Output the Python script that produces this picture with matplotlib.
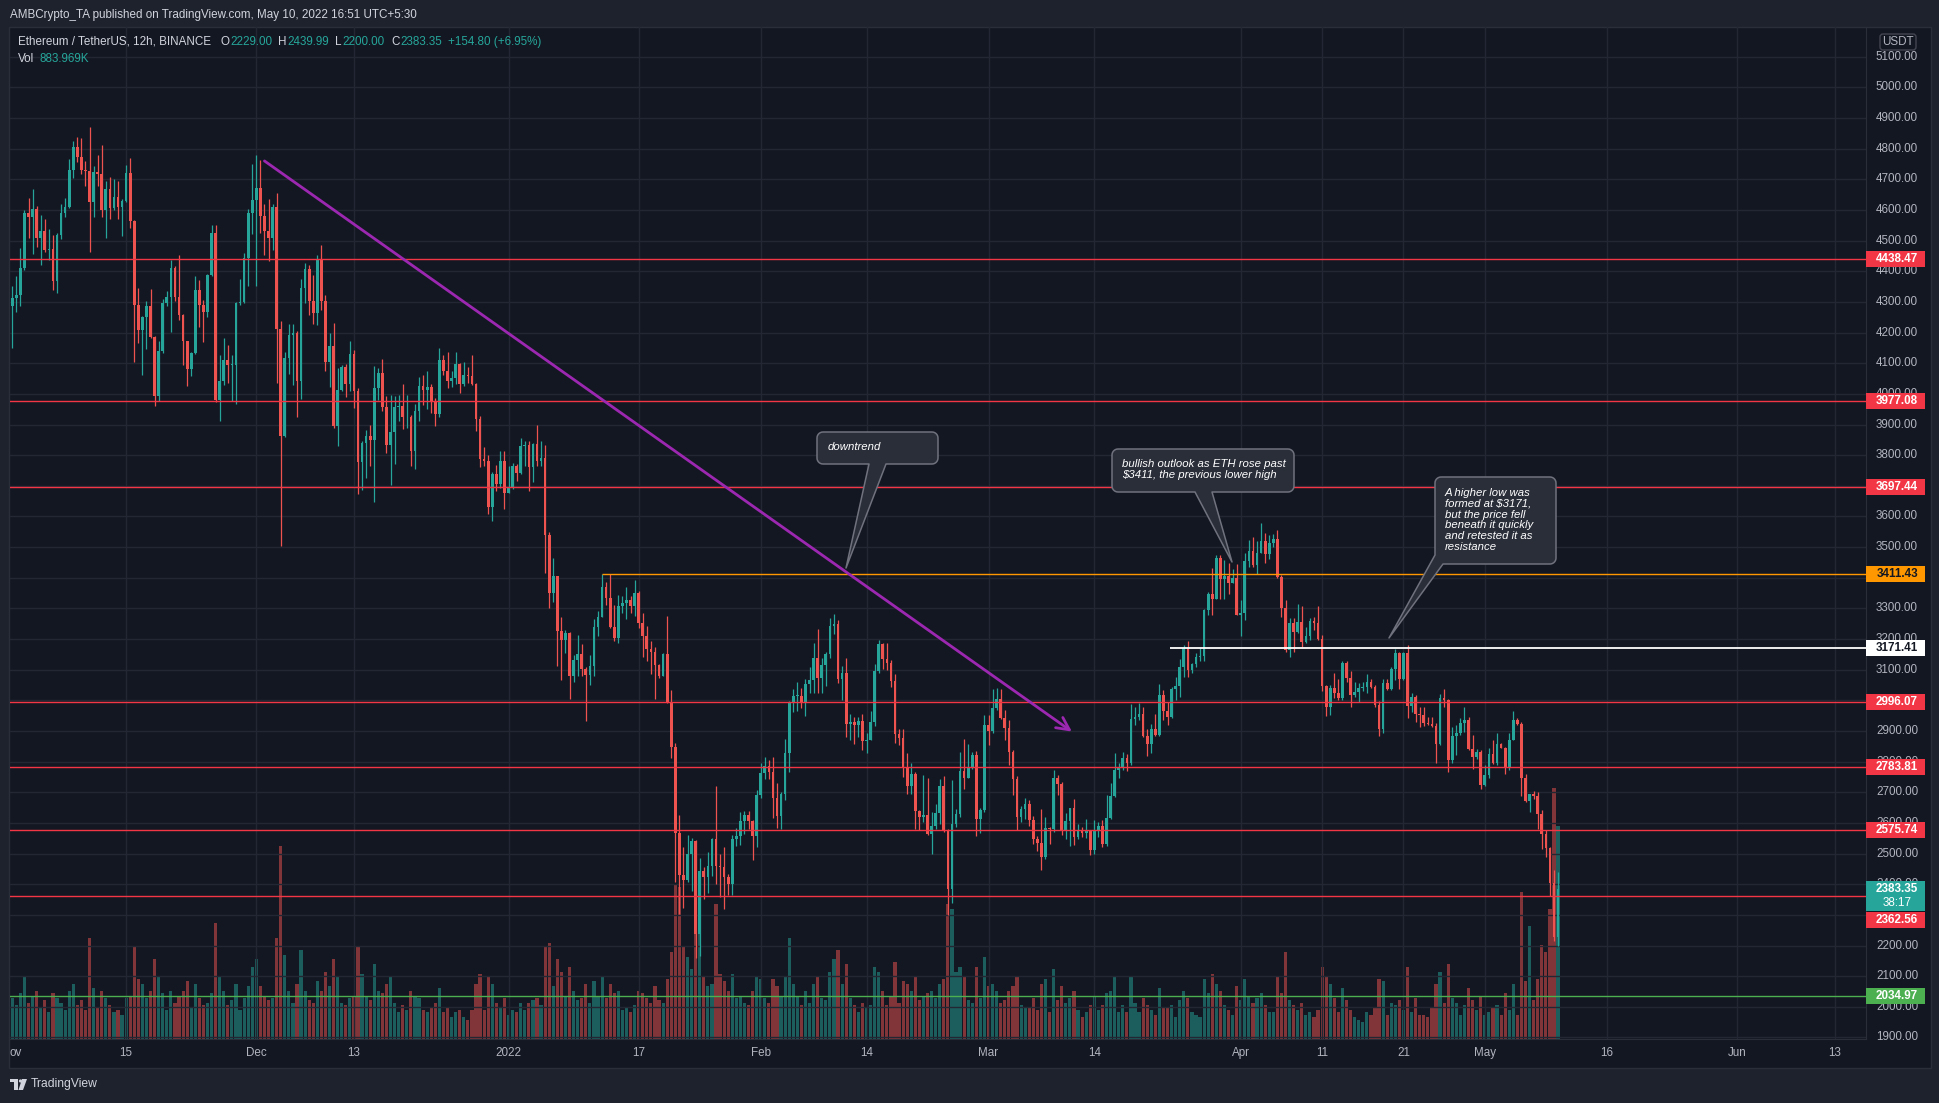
"""ETH/USDT 12h (Binance) in TradingView dark style: candles, volume,
horizontal levels, a falling trendline and three callouts."""
import matplotlib
matplotlib.use("Agg")
import matplotlib.pyplot as plt
import matplotlib.transforms as mtransforms
from matplotlib.patches import Rectangle, Polygon, FancyBboxPatch, Circle
import numpy as np

plt.rcParams["font.family"] = ["Liberation Sans", "DejaVu Sans"]

W, H = 1940, 1103

# 12h candles: index 0 = 2021-11-01 00:00 UTC, last = 2022-05-10 00:00 UTC
OPEN_FIRST = 4286
CLOSE = [
    4313, 4321, 4411, 4591, 4577, 4604, 4509, 4533, 4471, 4473,
    4368, 4519, 4591, 4611, 4729, 4807, 4774, 4730, 4727, 4626,
    4724, 4716, 4600, 4667, 4605, 4643, 4611, 4628, 4722, 4564,
    4289, 4208, 4251, 4288, 4186, 3994, 4141, 4295, 4316, 4412,
    4316, 4256, 4172, 4082, 4134, 4340, 4289, 4266, 4387, 4526,
    3981, 4041, 4112, 4093, 4095, 4295, 4299, 4444, 4591, 4631,
    4673, 4580, 4531, 4507, 4611, 4213, 3864, 4118, 4193, 4199,
    4041, 4346, 4409, 4304, 4264, 4436, 4302, 4103, 4157, 3896,
    4014, 4088, 4033, 4130, 4008, 3779, 3841, 3861, 3848, 4019,
    4068, 3957, 3832, 3875, 3957, 3961, 3923, 3924, 3812, 3945,
    4027, 4011, 4021, 3977, 3933, 4110, 4076, 4043, 4053, 4097,
    4032, 4062, 4057, 4032, 3918, 3788, 3782, 3630, 3740, 3707,
    3782, 3675, 3692, 3765, 3741, 3829, 3833, 3762, 3837, 3782,
    3792, 3538, 3349, 3406, 3225, 3198, 3220, 3079, 3130, 3152,
    3102, 3083, 3113, 3239, 3273, 3371, 3335, 3239, 3202, 3308,
    3319, 3326, 3308, 3349, 3253, 3209, 3168, 3158, 3116, 3081,
    3151, 2996, 2848, 2567, 2430, 2414, 2500, 2540, 2238, 2444,
    2424, 2461, 2548, 2461, 2457, 2424, 2400, 2546, 2557, 2605,
    2626, 2605, 2557, 2690, 2763, 2786, 2767, 2681, 2622, 2695,
    2829, 2992, 3013, 3013, 2995, 3052, 3066, 3137, 3072, 3114,
    3150, 3243, 3249, 3069, 3088, 2922, 2930, 2920, 2932, 2868,
    2872, 2928, 3096, 3184, 3134, 3121, 3064, 2889, 2876, 2781,
    2720, 2761, 2639, 2620, 2625, 2565, 2590, 2634, 2720, 2578,
    2385, 2596, 2630, 2769, 2747, 2783, 2821, 2614, 2641, 2919,
    2899, 2974, 3003, 2943, 2911, 2832, 2742, 2620, 2647, 2663,
    2609, 2549, 2535, 2489, 2585, 2580, 2745, 2726, 2578, 2605,
    2650, 2554, 2578, 2567, 2578, 2513, 2578, 2590, 2532, 2617,
    2687, 2774, 2780, 2812, 2794, 2938, 2946, 2954, 2884, 2857,
    2908, 2886, 3019, 2966, 2946, 3036, 3047, 3110, 3170, 3099,
    3120, 3142, 3145, 3295, 3346, 3330, 3466, 3396, 3406, 3384,
    3398, 3278, 3284, 3455, 3488, 3442, 3482, 3520, 3477, 3515,
    3525, 3402, 3302, 3164, 3251, 3224, 3257, 3191, 3210, 3260,
    3251, 3199, 3048, 2977, 3039, 3025, 3009, 3121, 3072, 3017,
    3028, 3041, 3044, 3061, 3044, 2984, 2908, 3057, 3036, 3101,
    3153, 3071, 3153, 2981, 3012, 2957, 2951, 2927, 2922, 2916,
    2857, 3006, 3001, 2805, 2883, 2892, 2927, 2935, 2840, 2816,
    2832, 2723, 2756, 2824, 2794, 2857, 2846, 2783, 2870, 2937,
    2924, 2745, 2672, 2694, 2687, 2630, 2565, 2518, 2404, 2229, 2383.35,
]
HIGH = [
    4353, 4386, 4477, 4600, 4640, 4667, 4612, 4582, 4569, 4537,
    4517, 4525, 4618, 4638, 4765, 4824, 4839, 4834, 4759, 4870,
    4744, 4778, 4811, 4693, 4709, 4702, 4693, 4635, 4746, 4771,
    4566, 4346, 4255, 4302, 4343, 4190, 4174, 4308, 4334, 4436,
    4417, 4452, 4259, 4174, 4137, 4386, 4373, 4306, 4392, 4550,
    4552, 4128, 4182, 4161, 4128, 4299, 4375, 4458, 4602, 4751,
    4778, 4762, 4620, 4635, 4618, 4654, 4237, 4136, 4229, 4229,
    4205, 4376, 4426, 4420, 4389, 4452, 4487, 4324, 4199, 4232,
    4085, 4095, 4098, 4174, 4144, 4019, 3845, 3883, 3899, 4092,
    4084, 4115, 3994, 3997, 3994, 3997, 4032, 3997, 3932, 3968,
    4055, 4062, 4073, 4032, 3988, 4149, 4128, 4135, 4073, 4135,
    4101, 4103, 4087, 4128, 4035, 3929, 3826, 3801, 3746, 3769,
    3813, 3813, 3764, 3774, 3771, 3856, 3847, 3847, 3840, 3898,
    3847, 3833, 3549, 3463, 3406, 3271, 3230, 3223, 3147, 3212,
    3184, 3110, 3147, 3264, 3291, 3412, 3385, 3412, 3312, 3343,
    3339, 3370, 3339, 3394, 3357, 3284, 3243, 3192, 3174, 3120,
    3155, 3275, 3033, 2862, 2626, 2523, 2560, 2551, 2544, 2485,
    2457, 2506, 2550, 2722, 2498, 2523, 2433, 2561, 2585, 2635,
    2640, 2640, 2608, 2708, 2797, 2814, 2804, 2814, 2729, 2700,
    2873, 2997, 3038, 3061, 3040, 3071, 3110, 3186, 3233, 3139,
    3159, 3268, 3282, 3262, 3113, 3137, 2957, 2946, 2946, 2954,
    2892, 2965, 3117, 3197, 3186, 3186, 3132, 3086, 2905, 2905,
    2829, 2794, 2766, 2643, 2758, 2748, 2636, 2663, 2742, 2752,
    2581, 2740, 2647, 2832, 2875, 2856, 2832, 2834, 2650, 2952,
    2952, 3036, 3041, 3036, 2970, 2935, 2837, 2752, 2654, 2682,
    2676, 2622, 2556, 2647, 2620, 2587, 2774, 2758, 2734, 2632,
    2650, 2678, 2598, 2587, 2614, 2578, 2609, 2603, 2609, 2690,
    2731, 2829, 2794, 2832, 2826, 2987, 2979, 2990, 2979, 2908,
    2924, 2957, 3053, 3033, 2995, 3044, 3075, 3135, 3180, 3194,
    3122, 3153, 3170, 3297, 3355, 3431, 3474, 3474, 3458, 3447,
    3428, 3445, 3327, 3482, 3524, 3534, 3521, 3578, 3547, 3540,
    3542, 3556, 3409, 3327, 3268, 3268, 3314, 3308, 3240, 3268,
    3273, 3308, 3213, 3050, 3050, 3088, 3071, 3128, 3129, 3096,
    3061, 3057, 3060, 3086, 3068, 3050, 2999, 3068, 3071, 3110,
    3166, 3158, 3158, 3180, 3023, 3017, 2979, 2979, 2946, 2946,
    2927, 3022, 3038, 3003, 2914, 2919, 2944, 2979, 2946, 2886,
    2840, 2837, 2788, 2843, 2872, 2892, 2861, 2848, 2892, 2966,
    2941, 2930, 2759, 2696, 2704, 2701, 2641, 2578, 2522, 2447, 2439.99,
]
LOW = [
    4148, 4266, 4286, 4405, 4509, 4455, 4479, 4422, 4462, 4438,
    4340, 4330, 4504, 4577, 4608, 4704, 4757, 4716, 4678, 4462,
    4577, 4678, 4578, 4508, 4571, 4600, 4571, 4515, 4625, 4542,
    4103, 4166, 4063, 4147, 4182, 3959, 3978, 4134, 4286, 4201,
    4302, 4242, 4095, 4025, 4059, 4130, 4217, 4168, 4251, 4384,
    3975, 3913, 4030, 4035, 3978, 3967, 4291, 4297, 4351, 4520,
    4351, 4526, 4452, 4433, 4471, 4035, 3505, 3860, 4066, 4030,
    3923, 3984, 4297, 4257, 4229, 4224, 4273, 4076, 4021, 3888,
    3829, 4008, 3990, 4008, 3954, 3673, 3685, 3725, 3763, 3646,
    3981, 3943, 3807, 3701, 3771, 3910, 3886, 3888, 3763, 3754,
    3913, 3963, 3950, 3936, 3895, 3926, 4062, 4018, 4021, 4032,
    4002, 4025, 4035, 4029, 3878, 3760, 3764, 3607, 3586, 3682,
    3692, 3623, 3675, 3689, 3716, 3737, 3764, 3682, 3714, 3764,
    3764, 3417, 3301, 3321, 3113, 3065, 3154, 3003, 3061, 3079,
    3079, 2932, 3051, 3079, 3209, 3273, 3312, 3236, 3195, 3188,
    3284, 3264, 3284, 3275, 3236, 3143, 3129, 3086, 3003, 3072,
    3081, 2992, 2811, 2407, 2304, 2324, 2406, 2379, 2159, 2167,
    2352, 2372, 2427, 2400, 2359, 2320, 2365, 2365, 2526, 2529,
    2564, 2581, 2478, 2523, 2681, 2743, 2743, 2615, 2585, 2581,
    2674, 2766, 2962, 2965, 2975, 2948, 3025, 3025, 3025, 3025,
    3046, 3139, 3215, 3058, 3001, 2881, 2870, 2859, 2881, 2837,
    2829, 2870, 2916, 3088, 3101, 3099, 3044, 2861, 2854, 2750,
    2696, 2696, 2581, 2578, 2603, 2560, 2500, 2581, 2598, 2570,
    2300, 2340, 2587, 2620, 2712, 2745, 2777, 2556, 2567, 2636,
    2854, 2892, 2970, 2938, 2870, 2788, 2690, 2576, 2603, 2614,
    2589, 2532, 2510, 2447, 2483, 2532, 2570, 2690, 2559, 2549,
    2524, 2527, 2549, 2554, 2552, 2494, 2500, 2554, 2521, 2524,
    2614, 2683, 2748, 2774, 2770, 2790, 2919, 2935, 2879, 2818,
    2829, 2883, 2883, 2935, 2919, 2944, 3001, 3012, 3077, 3077,
    3088, 3110, 3128, 3128, 3278, 3278, 3330, 3330, 3330, 3347,
    3382, 3278, 3210, 3262, 3436, 3436, 3412, 3480, 3447, 3460,
    3500, 3398, 3273, 3159, 3142, 3159, 3219, 3175, 3186, 3197,
    3230, 3197, 3031, 2949, 2952, 3006, 3001, 3001, 3060, 2977,
    3012, 2995, 3030, 3023, 3039, 2979, 2883, 2894, 3033, 3033,
    3066, 3036, 3066, 2941, 2963, 2930, 2914, 2916, 2920, 2914,
    2794, 2854, 2979, 2767, 2796, 2821, 2886, 2897, 2837, 2777,
    2810, 2712, 2720, 2748, 2792, 2788, 2843, 2759, 2774, 2870,
    2919, 2687, 2668, 2636, 2679, 2581, 2516, 2489, 2360, 2216, 2200,
]
VOLUME_K = [
    170, 140, 190, 260, 150, 180, 200, 130, 160, 110, 190, 170, 150, 120, 200, 230, 140, 160, 120, 420,
    210, 130, 200, 170, 140, 110, 120, 100, 170, 180, 380, 250, 230, 170, 200, 330, 260, 190, 120, 200,
    150, 180, 200, 240, 130, 230, 170, 140, 150, 190, 480, 260, 200, 140, 160, 230, 120, 170, 220, 300,
    330, 220, 180, 160, 170, 420, 800, 350, 200, 150, 230, 370, 200, 160, 150, 240, 200, 280, 220, 330,
    260, 150, 140, 170, 180, 380, 270, 180, 160, 310, 200, 190, 230, 260, 150, 110, 140, 120, 200, 180,
    170, 120, 110, 130, 150, 210, 110, 130, 90, 110, 120, 90, 80, 120, 230, 270, 120, 260, 230, 150,
    130, 170, 100, 120, 110, 150, 120, 150, 160, 170, 140, 380, 400, 220, 330, 280, 180, 300, 200, 160,
    170, 230, 150, 240, 180, 260, 170, 230, 190, 200, 120, 130, 110, 140, 200, 190, 170, 150, 220, 160,
    150, 250, 360, 640, 630, 380, 340, 290, 650, 470, 260, 220, 230, 560, 270, 240, 200, 270, 170, 180,
    150, 140, 200, 260, 250, 170, 150, 250, 220, 180, 260, 420, 230, 180, 140, 200, 150, 230, 260, 170,
    160, 280, 330, 370, 230, 310, 170, 140, 110, 150, 130, 140, 300, 280, 200, 140, 180, 320, 150, 240,
    230, 200, 260, 160, 180, 190, 200, 170, 230, 250, 560, 540, 280, 300, 260, 160, 150, 300, 170, 340,
    220, 230, 200, 150, 160, 200, 220, 260, 140, 130, 130, 170, 120, 230, 250, 110, 290, 160, 220, 150,
    170, 200, 120, 90, 110, 140, 180, 120, 140, 190, 200, 260, 110, 140, 110, 260, 150, 110, 170, 140,
    120, 100, 210, 130, 130, 140, 90, 160, 200, 170, 110, 100, 90, 250, 190, 270, 230, 200, 140, 120,
    100, 220, 160, 250, 180, 150, 170, 190, 140, 110, 110, 260, 190, 360, 160, 140, 120, 150, 100, 110,
    90, 120, 300, 260, 230, 170, 110, 210, 160, 120, 90, 80, 70, 110, 100, 130, 250, 240, 100, 150,
    140, 160, 120, 300, 110, 170, 100, 100, 90, 130, 230, 280, 150, 310, 170, 150, 100, 140, 210, 160,
    120, 180, 100, 110, 130, 140, 100, 190, 120, 230, 100, 610, 240, 470, 160, 250, 390, 360, 540, 1040, 884,
]

RED_LEVELS = [4438.47, 3977.08, 3697.44, 2996.07, 2783.81, 2575.74, 2362.56]
ORANGE_LEVEL, ORANGE_FROM = 3411.43, 145
WHITE_LEVEL, WHITE_FROM = 3171.41, 284.6
GREEN_LEVEL = 2034.97
TREND = [(62, 4760), (260.5, 2898)]

TICK_POS = [0.9, 28, 60, 84, 122, 154, 184, 210, 240, 266, 302, 322, 342, 362, 392, 424, 448]
TICK_LABELS = ["ov", "15", "Dec", "13", "2022", "17", "Feb", "14", "Mar", "14",
               "Apr", "11", "21", "May", "16", "Jun", "13"]
# price-scale labels that sit fully under the current-price block are not drawn
HIDDEN_PRICE_LABELS = [2300]

PAGE = "#1e222d"
BG = "#131722"
BORDER = "#2a2e39"
GRID = "#232733"
TXT = "#d1d4dc"
AXTXT = "#b2b5be"
UP = "#26a69a"
DOWN = "#ef5350"
LRED = "#f23645"
ORANGE = "#ff9800"
LGREEN = "#4caf50"
PURPLE = "#9c27b0"

XMIN, XMAX = -0.55, 455.7
YMIN, YMAX = 1895, 5197
VOL_TOP = 4200
FS = 8.4


def fig_rect(x0, y0, x1, y1):
    return [x0 / W, 1 - y1 / H, (x1 - x0) / W, (y1 - y0) / H]


def callout(oax, x0, y0, x1, y1, tail, r=6):
    def arc(cx, cy, a0, a1):
        return [(cx + r * np.cos(t), cy + r * np.sin(t)) for t in np.linspace(a0, a1, 8)]
    pts = arc(x0 + r, y0 + r, np.pi, 1.5 * np.pi)
    pts += arc(x1 - r, y0 + r, 1.5 * np.pi, 2 * np.pi)
    pts += arc(x1 - r, y1 - r, 0, 0.5 * np.pi)
    if tail[0] == "bottom":
        _, b1, b2, tx, ty = tail
        pts += [(b2, y1), (tx, ty), (b1, y1)]
        pts += arc(x0 + r, y1 - r, 0.5 * np.pi, np.pi)
    else:
        _, bx, ly, tx, ty = tail
        pts += [(bx, y1), (tx, ty), (x0, ly)]
    oax.add_patch(Polygon(pts, closed=True, fc="#2a2e39", ec="#70737e", lw=1.1,
                          joinstyle="round", zorder=5))


def main():
    close = np.array(CLOSE, float)
    opens = np.concatenate([[OPEN_FIRST], close[:-1]])
    high = np.maximum.reduce([np.array(HIGH, float), opens, close])
    low = np.minimum.reduce([np.array(LOW, float), opens, close])
    vol = np.array(VOLUME_K, float)
    k = np.arange(len(close))
    assert len(high) == len(low) == len(vol) == len(close)
    up = close >= opens

    fig = plt.figure(figsize=(W / 100, H / 100), dpi=100, facecolor=PAGE)

    # chart panel (plot + price scale + time scale), behind all axes
    fig.patches.append(Rectangle((9 / W, 1 - 1068 / H), 1922 / W, 1041 / H,
                                 transform=fig.transFigure, fc=BG, ec=BORDER, lw=1,
                                 zorder=-10))

    rect = fig_rect(10, 27, 1866, 1039)
    vax = fig.add_axes(rect)
    vax.patch.set_visible(False)
    vax.set_xlim(XMIN, XMAX)
    vax.set_ylim(0, VOL_TOP)
    vax.axis("off")
    vcol = [(0.149, 0.651, 0.604, 0.5) if u else (0.937, 0.325, 0.314, 0.5) for u in up]
    vax.bar(k, vol, width=0.78, color=vcol, lw=0)

    ax = fig.add_axes(rect)
    ax.patch.set_visible(False)
    ax.set_xlim(XMIN, XMAX)
    ax.set_ylim(YMIN, YMAX)
    for s in ("top", "left"):
        ax.spines[s].set_visible(False)
    for s in ("right", "bottom"):
        ax.spines[s].set_color(BORDER)
    ax.set_yticks([])

    # grid
    for p in range(1900, 5200, 100):
        ax.axhline(p, color=GRID, lw=1, zorder=0)
    for t in TICK_POS[1:]:
        ax.axvline(t, color=GRID, lw=1, zorder=0)

    # candles
    col = np.where(up, UP, DOWN)
    ax.vlines(k, low, high, colors=col, lw=0.9, zorder=3)
    body_h = np.maximum(np.abs(close - opens), 3)
    ax.bar(k, body_h, bottom=np.minimum(opens, close), width=0.66, color=col, lw=0, zorder=4)

    # horizontal levels
    for lv in RED_LEVELS:
        ax.axhline(lv, color=LRED, lw=1.0, zorder=6)
    ax.axhline(GREEN_LEVEL, color=LGREEN, lw=1.0, zorder=6)
    ax.hlines(ORANGE_LEVEL, ORANGE_FROM, XMAX, color=ORANGE, lw=1.0, zorder=6)
    ax.hlines(WHITE_LEVEL, WHITE_FROM, XMAX, color="white", lw=1.3, zorder=6)

    # trendline with open arrowhead
    ax.annotate("", xy=TREND[1], xytext=TREND[0], zorder=7,
                arrowprops=dict(arrowstyle="->,head_length=0.9,head_width=0.45",
                                color=PURPLE, lw=2, shrinkA=0, shrinkB=0))

    # time scale
    ax.set_xticks(TICK_POS)
    ax.set_xticklabels(TICK_LABELS)
    ax.tick_params(axis="x", length=0, pad=6, colors=AXTXT, labelsize=FS)

    # price scale
    tr = mtransforms.blended_transform_factory(ax.transAxes, ax.transData)
    xc = (1897 - 10) / 1856
    for p in range(1900, 5200, 100):
        if p in HIDDEN_PRICE_LABELS:
            continue
        ax.text(xc, p, f"{p:.2f}", transform=tr, ha="center", va="center",
                color=AXTXT, fontsize=FS, clip_on=False, zorder=8)

    hpx = (YMAX - YMIN) / 1012.0
    bw = (1925 - 1866) / 1856

    def tag(yc, text, fc, tc, h=16):
        ax.add_patch(Rectangle((1.0, yc - h / 2 * hpx), bw, h * hpx, transform=tr,
                               fc=fc, ec="none", clip_on=False, zorder=20))
        ax.text(xc, yc, text, transform=tr, ha="center", va="center", color=tc,
                fontsize=FS, fontweight="bold", clip_on=False, zorder=21)

    for lv in RED_LEVELS[:-1]:
        tag(lv, f"{lv:.2f}", LRED, "white")
    tag(ORANGE_LEVEL, f"{ORANGE_LEVEL:.2f}", ORANGE, BG)
    tag(WHITE_LEVEL, f"{WHITE_LEVEL:.2f}", "white", BG)
    tag(GREEN_LEVEL, f"{GREEN_LEVEL:.2f}", LGREEN, "white")
    # current price block (teal, two rows) and the displaced 2362.56 tag below it
    last = close[-1]
    ax.add_patch(Rectangle((1.0, last - 22 * hpx), bw, 30 * hpx, transform=tr,
                           fc=UP, ec="none", clip_on=False, zorder=20))
    ax.text(xc, last, f"{last:.2f}", transform=tr, ha="center", va="center",
            color="white", fontsize=FS, fontweight="bold", clip_on=False, zorder=21)
    ax.text(xc, last - 14 * hpx, "38:17", transform=tr, ha="center", va="center",
            color="white", fontsize=FS, clip_on=False, zorder=21)
    tag(last - 31 * hpx, f"{RED_LEVELS[-1]:.2f}", LRED, "white")

    # overlay in pixel coordinates for page chrome and callouts
    oax = fig.add_axes([0, 0, 1, 1])
    oax.set_xlim(0, W)
    oax.set_ylim(H, 0)
    oax.axis("off")

    oax.text(10, 15, "AMBCrypto_TA published on TradingView.com, May 10, 2022 16:51 UTC+5:30",
             color=TXT, fontsize=FS, va="center", ha="left")
    oax.text(18, 42, "Ethereum / TetherUS, 12h, BINANCE", color=TXT, fontsize=FS, va="center")
    for x_l, lab, val in [(221, "O", "2229.00"), (278, "H", "2439.99"),
                          (335, "L", "2200.00"), (391.5, "C", "2383.35")]:
        t = oax.text(x_l, 42, lab, color=TXT, fontsize=FS, va="center")
        oax.annotate(val, xy=(1, 0.5), xycoords=t, xytext=(0.5, 0), textcoords="offset points",
                     color=UP, fontsize=FS, va="center", ha="left")
    oax.text(448, 42, "+154.80 (+6.95%)", color=UP, fontsize=FS, va="center")
    t = oax.text(18, 59, "Vol", color=TXT, fontsize=FS, va="center")
    oax.annotate("883.969K", xy=(1, 0.5), xycoords=t, xytext=(4, 0), textcoords="offset points",
                 color=UP, fontsize=FS, va="center", ha="left")

    oax.add_patch(FancyBboxPatch((1880, 34), 36, 16, boxstyle="round,pad=0,rounding_size=3",
                                 fc=BG, ec="#434651", lw=1))
    oax.text(1898, 42, "USDT", color=AXTXT, fontsize=FS, ha="center", va="center")

    # TradingView logo
    oax.add_patch(Rectangle((10, 1079), 8, 3, fc=TXT, ec="none"))
    oax.add_patch(Rectangle((14, 1079), 4, 11, fc=TXT, ec="none"))
    oax.add_patch(Circle((20.5, 1081), 1.6, fc=TXT, ec="none"))
    oax.add_patch(Polygon([(22, 1079), (27, 1079), (23, 1090), (18.5, 1090)], fc=TXT, ec="none"))
    oax.text(31, 1084, "TradingView", color=TXT, fontsize=FS + 0.3, va="center")

    # callouts
    callout(oax, 817, 432, 938, 464, ("bottom", 869, 886, 846, 568))
    oax.text(828, 447, "downtrend", color="white", fontsize=8.2, style="italic",
             va="center", zorder=6)
    callout(oax, 1112, 449, 1294, 492, ("bottom", 1195, 1212, 1232, 562))
    for i, line in enumerate(["bullish outlook as ETH rose past",
                              "$3411, the previous lower high"]):
        oax.text(1122, 464 + 11.5 * i, line, color="white", fontsize=8.2,
                 style="italic", va="center", zorder=6)
    callout(oax, 1435, 477, 1556, 564, ("corner", 1443, 555, 1389, 638))
    for i, line in enumerate(["A higher low was", "formed at $3171,", "but the price fell",
                              "beneath it quickly", "and retested it as", "resistance"]):
        oax.text(1445, 493 + 10.8 * i, line, color="white", fontsize=8.2,
                 style="italic", va="center", zorder=6)

    fig.savefig("out.png", dpi=100, facecolor=PAGE)
    plt.close(fig)


if __name__ == "__main__":
    main()
